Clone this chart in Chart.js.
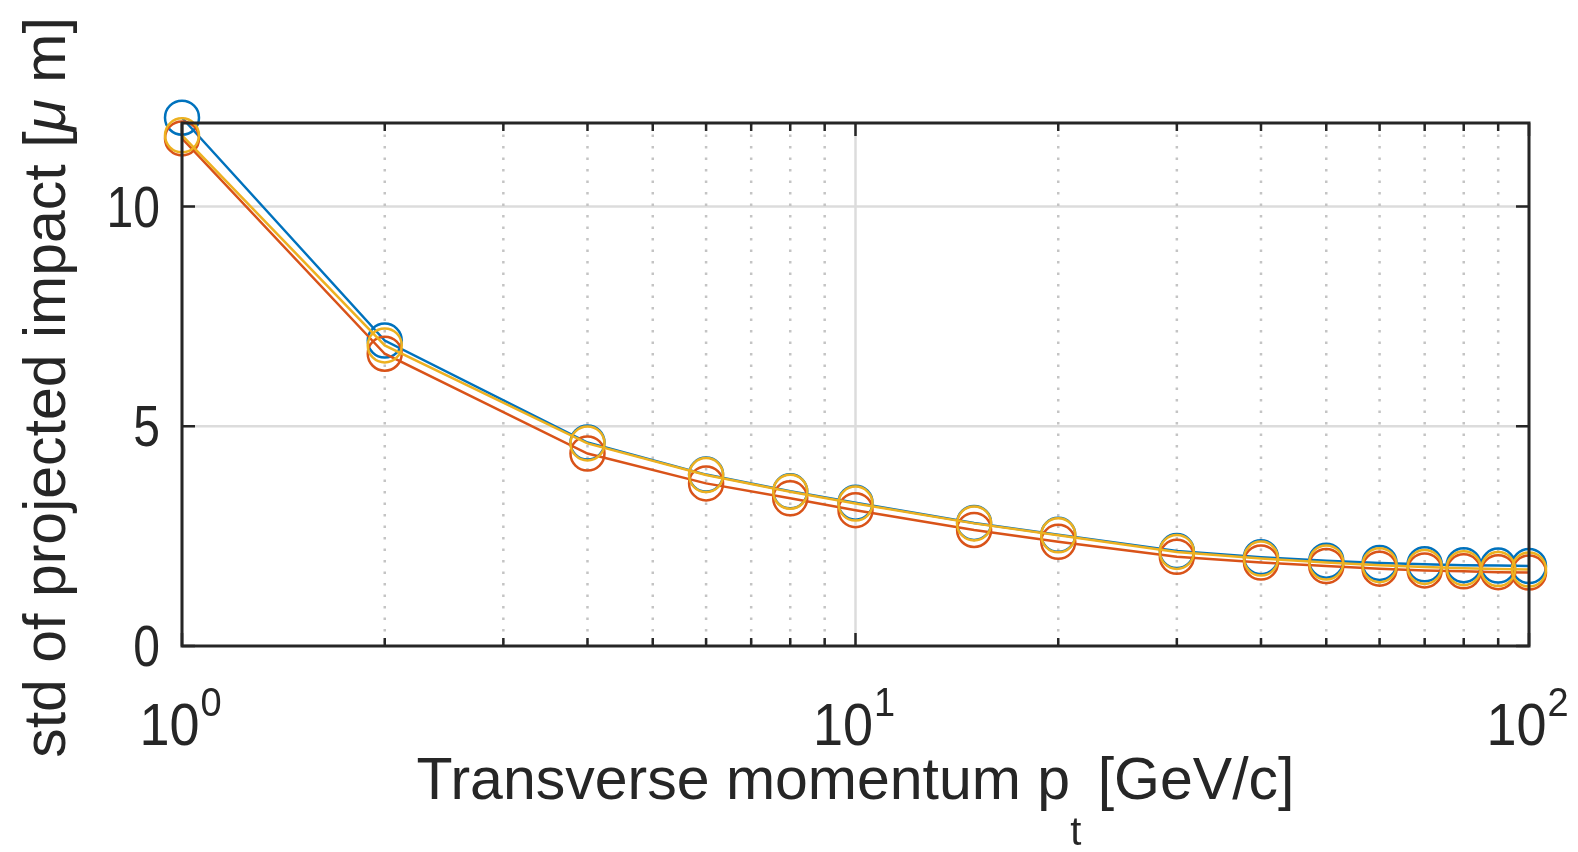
<!DOCTYPE html>
<html>
<head>
<meta charset="utf-8">
<script src="https://cdn.jsdelivr.net/npm/chart.js@4.4.1/dist/chart.umd.min.js"></script>
<style>
  html, body { margin: 0; padding: 0; background: #fff; }
  canvas { display: block; }
</style>
</head>
<body>
<canvas id="chart" width="1578" height="852"></canvas>
<script>
// pt values (GeV/c) and std of projected impact (um), three runs
const momentum = [1, 2, 4, 6, 8, 10, 15, 20, 30, 40, 50, 60, 70, 80, 90, 100];
const stdBlue = [12.02, 6.95, 4.63, 3.90, 3.52, 3.26, 2.80, 2.53, 2.16, 2.02, 1.94, 1.89, 1.86, 1.84, 1.83, 1.82];
const stdRed = [11.55, 6.65, 4.38, 3.70, 3.36, 3.09, 2.64, 2.37, 2.03, 1.90, 1.82, 1.76, 1.72, 1.70, 1.68, 1.67];
const stdYellow = [11.62, 6.84, 4.61, 3.89, 3.51, 3.24, 2.79, 2.52, 2.14, 1.99, 1.90, 1.84, 1.80, 1.77, 1.75, 1.74];

const yTicks = [0, 5, 10];
const xMajorTicks = [1, 10, 100];
const xMinorTicks = [2, 3, 4, 5, 6, 7, 8, 9, 20, 30, 40, 50, 60, 70, 80, 90];
const xTickExponents = ['0', '1', '2'];

const AXIS_COLOR = '#262626';
const FONT = "'Liberation Sans', Arial, sans-serif";

function toPoints(values) {
    return momentum.map((x, i) => ({ x: x, y: values[i] }));
}

function series(label, values, color, order) {
    return {
        label: label,
        data: toPoints(values),
        borderColor: color,
        backgroundColor: 'rgba(0,0,0,0)',
        borderWidth: 2.5,
        pointRadius: 17,
        pointBorderWidth: 2.5,
        pointBorderColor: color,
        pointBackgroundColor: 'rgba(0,0,0,0)',
        tension: 0,
        clip: false,
        order: order
    };
}

// text stretched vertically a bit, like the original export
function tallText(ctx, text, x, y, sy) {
    ctx.save();
    ctx.translate(x, y);
    ctx.scale(1, sy);
    ctx.fillText(text, 0, 0);
    ctx.restore();
}

// MATLAB-like axes: grid, boxed ticks pointing inward, labels
const matlabAxes = {
    id: 'matlabAxes',
    beforeDatasetsDraw(chart) {
        const { ctx, chartArea: a, scales: { x, y } } = chart;
        ctx.save();
        ctx.lineWidth = 2.5;
        ctx.strokeStyle = '#dcdcdc';
        yTicks.forEach(v => {
            if (v === 0) return;
            const py = y.getPixelForValue(v);
            ctx.beginPath();
            ctx.moveTo(a.left, py);
            ctx.lineTo(a.right, py);
            ctx.stroke();
        });
        xMajorTicks.forEach(v => {
            const px = x.getPixelForValue(v);
            ctx.beginPath();
            ctx.moveTo(px, a.top);
            ctx.lineTo(px, a.bottom);
            ctx.stroke();
        });
        ctx.strokeStyle = '#c4c4c4';
        ctx.setLineDash([2.5, 9]);
        xMinorTicks.forEach(v => {
            const px = x.getPixelForValue(v);
            ctx.beginPath();
            ctx.moveTo(px, a.top);
            ctx.lineTo(px, a.bottom);
            ctx.stroke();
        });
        ctx.restore();
    },
    afterDatasetsDraw(chart) {
        const { ctx, chartArea: a, scales: { x, y } } = chart;
        ctx.save();
        ctx.strokeStyle = AXIS_COLOR;
        ctx.lineWidth = 3;
        ctx.strokeRect(a.left, a.top, a.right - a.left, a.bottom - a.top);

        ctx.lineWidth = 2.5;
        ctx.beginPath();
        yTicks.forEach(v => {
            const py = y.getPixelForValue(v);
            ctx.moveTo(a.left, py); ctx.lineTo(a.left + 13, py);
            ctx.moveTo(a.right, py); ctx.lineTo(a.right - 13, py);
        });
        xMajorTicks.forEach(v => {
            const px = x.getPixelForValue(v);
            ctx.moveTo(px, a.bottom); ctx.lineTo(px, a.bottom - 13);
            ctx.moveTo(px, a.top); ctx.lineTo(px, a.top + 13);
        });
        xMinorTicks.forEach(v => {
            const px = x.getPixelForValue(v);
            ctx.moveTo(px, a.bottom); ctx.lineTo(px, a.bottom - 8);
            ctx.moveTo(px, a.top); ctx.lineTo(px, a.top + 8);
        });
        ctx.stroke();

        // y tick labels
        ctx.fillStyle = AXIS_COLOR;
        ctx.font = '48px ' + FONT;
        ctx.textAlign = 'right';
        ctx.textBaseline = 'alphabetic';
        yTicks.forEach(v => {
            tallText(ctx, String(v), a.left - 22, y.getPixelForValue(v) + 20, 1.18);
        });

        // x tick labels 10^n
        ctx.textAlign = 'left';
        xMajorTicks.forEach((v, i) => {
            const px = x.getPixelForValue(v);
            ctx.font = '54px ' + FONT;
            const wBase = ctx.measureText('10').width;
            ctx.font = '38px ' + FONT;
            const wExp = ctx.measureText(xTickExponents[i]).width;
            const left = px - (wBase + wExp) / 2 - 2;
            ctx.font = '54px ' + FONT;
            tallText(ctx, '10', left, 745, 1.08);
            ctx.font = '38px ' + FONT;
            tallText(ctx, xTickExponents[i], left + wBase + 1, 716, 1.08);
        });

        // x axis title with subscript
        const cx = (a.left + a.right) / 2;
        const partA = 'Transverse momentum p';
        const partSub = 't';
        const partB = ' [GeV/c]';
        ctx.font = '59px ' + FONT;
        const wA = ctx.measureText(partA).width;
        const wB = ctx.measureText(partB).width;
        ctx.font = '40px ' + FONT;
        const wS = ctx.measureText(partSub).width;
        let tx = cx - (wA + wS + wB) / 2;
        ctx.font = '59px ' + FONT;
        ctx.fillText(partA, tx, 799);
        tx += wA;
        ctx.font = '40px ' + FONT;
        ctx.fillText(partSub, tx, 845);
        tx += wS;
        ctx.font = '59px ' + FONT;
        ctx.fillText(partB, tx, 799);

        // y axis title, rotated, italic mu
        const cy = (a.top + a.bottom) / 2 + 3;
        const yA = 'std of projected impact [';
        const yMu = 'μ';
        const yB = ' m]';
        ctx.font = '59px ' + FONT;
        const w1 = ctx.measureText(yA).width;
        const w3 = ctx.measureText(yB).width;
        ctx.font = 'italic 59px ' + FONT;
        const w2 = ctx.measureText(yMu).width;
        ctx.translate(65, cy);
        ctx.rotate(-Math.PI / 2);
        let ty = -(w1 + w2 + w3) / 2;
        ctx.font = '59px ' + FONT;
        ctx.fillText(yA, ty, 0);
        ty += w1;
        ctx.font = 'italic 59px ' + FONT;
        ctx.fillText(yMu, ty, 0);
        ty += w2;
        ctx.font = '59px ' + FONT;
        ctx.fillText(yB, ty, 0);
        ctx.restore();
    }
};

new Chart(document.getElementById('chart').getContext('2d'), {
    type: 'line',
    data: {
        datasets: [
            series('run 1', stdBlue, '#0072BD', 2),
            series('run 2', stdRed, '#D95319', 1),
            series('run 3', stdYellow, '#EDB120', 0)
        ]
    },
    options: {
        responsive: false,
        animation: false,
        layout: {
            padding: { left: 182, top: 123, right: 49, bottom: 206 }
        },
        plugins: {
            legend: { display: false },
            tooltip: { enabled: false }
        },
        scales: {
            x: {
                type: 'logarithmic',
                min: 1,
                max: 100,
                display: false
            },
            y: {
                type: 'linear',
                min: 0,
                max: 11.9,
                display: false
            }
        }
    },
    plugins: [matlabAxes]
});
</script>
</body>
</html>
